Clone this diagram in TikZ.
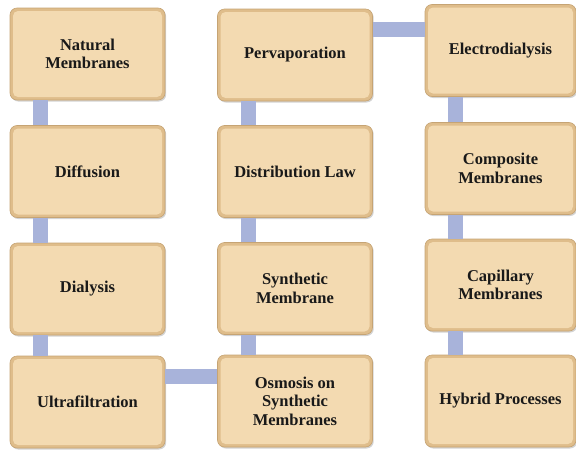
\documentclass[tikz,border=0pt]{standalone}
\usepackage{fontspec}
\setmainfont{Liberation Serif}
\usetikzlibrary{shadows}

\definecolor{boxfill}{HTML}{F3DAB1}
\definecolor{boxedge}{HTML}{DFBD8B}
\definecolor{boxline}{HTML}{C6A474}
\definecolor{linkblue}{HTML}{A8B3DA}

\tikzset{
  topic/.style={rectangle, rounded corners=7pt, draw=boxline, line width=0.6pt,
    fill=boxedge, minimum width=155pt, minimum height=92pt, align=center,
    text=black!90, font=\fontsize{16.5}{18.5}\selectfont\bfseries,
    drop shadow={shadow xshift=1.2pt, shadow yshift=-1.5pt, opacity=0.35},
    path picture={\fill[boxfill, rounded corners=5pt]
      ([shift={(3pt,-3pt)}]path picture bounding box.north west) rectangle
      ([shift={(-3pt,3pt)}]path picture bounding box.south east);}},
  link/.style={draw=linkblue, line width=15pt}
}

\begin{document}
\begin{tikzpicture}[x=1pt, y=-1pt]
\path[use as bounding box] (0,0) rectangle (576,450);
% column one
\node[topic] (natural) at (87.5,54) {Natural\\Membranes};
\node[topic] (diffusion) at (87.5,171.5) {Diffusion};
\node[topic] (dialysis) at (87.5,289) {Dialysis};
\node[topic] (ultra) at (87.5,402) {Ultrafiltration};
% column two
\node[topic] (osmosis) at (295,401) {Osmosis on\\Synthetic\\Membranes};
\node[topic] (synthetic) at (295,288.5) {Synthetic\\Membrane};
\node[topic] (distrib) at (295,171.5) {Distribution Law};
\node[topic] (perva) at (295,55) {Pervaporation};
% column three
\node[topic, minimum width=151pt] (electro) at (500.5,50.5) {Electrodialysis};
\node[topic, minimum width=151pt] (composite) at (500.5,168.5) {Composite\\Membranes};
\node[topic, minimum width=151pt] (capillary) at (500.5,285) {Capillary\\Membranes};
\node[topic, minimum width=151pt] (hybrid) at (500.5,401) {Hybrid Processes};
% links
\draw[link] ([xshift=31pt]natural.south west) -- ([xshift=31pt]diffusion.north west);
\draw[link] ([xshift=31pt]diffusion.south west) -- ([xshift=31pt]dialysis.north west);
\draw[link] ([xshift=31pt]dialysis.south west) -- ([xshift=31pt]ultra.north west);
\draw[link] ([yshift=-21pt]ultra.north east) -- ([yshift=-21pt]ultra.north east -| osmosis.west);
\draw[link] ([xshift=31pt]osmosis.north west) -- ([xshift=31pt]synthetic.south west);
\draw[link] ([xshift=31pt]synthetic.north west) -- ([xshift=31pt]distrib.south west);
\draw[link] ([xshift=31pt]distrib.north west) -- ([xshift=31pt]perva.south west);
\draw[link] ([yshift=-21pt]perva.north east) -- ([yshift=-21pt]perva.north east -| electro.west);
\draw[link] ([xshift=31pt]electro.south west) -- ([xshift=31pt]composite.north west);
\draw[link] ([xshift=31pt]composite.south west) -- ([xshift=31pt]capillary.north west);
\draw[link] ([xshift=31pt]capillary.south west) -- ([xshift=31pt]hybrid.north west);
\end{tikzpicture}
\end{document}
